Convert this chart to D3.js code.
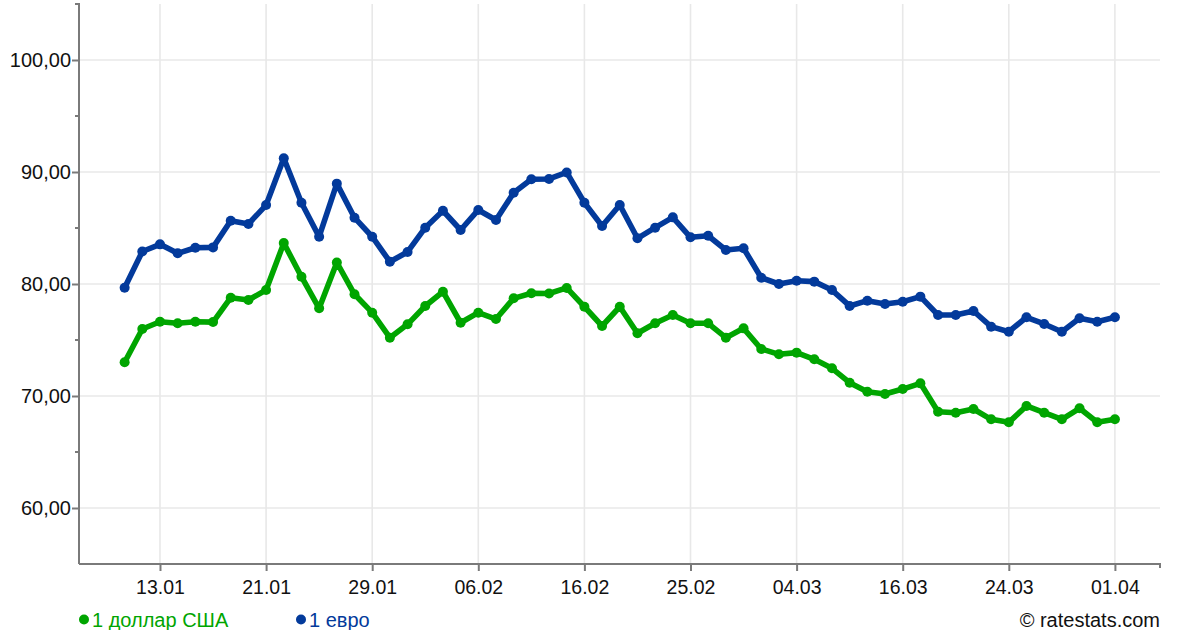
<!DOCTYPE html>
<html>
<head>
<meta charset="utf-8">
<script src="https://cdn.jsdelivr.net/npm/d3@7"></script>
<style>
  html, body { margin: 0; padding: 0; background: #fff; }
  svg { display: block; font-family: "Liberation Sans", Arial, Helvetica, sans-serif; }
</style>
</head>
<body>
<svg id="chart" width="1200" height="630"></svg>
<script>
// ---- data (CBR rates, RUB) ----
const dates = [
  "01.01","12.01","13.01","14.01","15.01","16.01","19.01","20.01","21.01","22.01",
  "23.01","26.01","27.01","28.01","29.01","30.01","02.02","03.02","04.02","05.02",
  "06.02","09.02","10.02","11.02","12.02","13.02","16.02","17.02","18.02","19.02",
  "20.02","24.02","25.02","26.02","27.02","01.03","02.03","03.03","04.03","05.03",
  "10.03","11.03","12.03","15.03","16.03","17.03","18.03","19.03","22.03","23.03",
  "24.03","25.03","26.03","29.03","30.03","31.03","01.04"
];
const usd = [
  73.01,75.98,76.63,76.49,76.63,76.60,78.78,78.57,79.46,83.65,
  80.65,77.83,81.92,79.08,77.44,75.21,76.40,78.04,79.31,76.54,
  77.44,76.87,78.72,79.17,79.15,79.65,77.97,76.25,77.97,75.60,
  76.49,77.23,76.49,76.49,75.21,76.04,74.20,73.72,73.87,73.28,
  72.47,71.19,70.38,70.18,70.62,71.13,68.60,68.51,68.84,67.92,
  67.65,69.11,68.51,67.92,68.90,67.65,67.92
];
const eur = [
  79.67,82.90,83.54,82.74,83.24,83.27,85.65,85.36,87.05,91.22,
  87.26,84.22,88.96,85.92,84.22,81.99,82.86,85.03,86.54,84.82,
  86.61,85.71,88.15,89.35,89.38,89.96,87.26,85.18,87.05,84.08,
  85.03,85.95,84.17,84.31,83.04,83.19,80.56,80.00,80.29,80.21,
  79.46,78.04,78.51,78.21,78.42,78.87,77.23,77.23,77.59,76.19,
  75.74,77.03,76.43,75.74,76.94,76.63,77.03
];
const xTickLabels = ["13.01","21.01","29.01","06.02","16.02","25.02","04.03","16.03","24.03","01.04"];
const yTickValues = [60, 70, 80, 90, 100];
const seriesNames = ["1 доллар США", "1 евро"];
const seriesColors = ["#00a500", "#033a9b"];

// ---- layout ----
const svg = d3.select("#chart");
const L = 79, R = 1160, T = 4, B = 564;

const x = d3.scaleLinear().domain([-2.58, 58.55]).range([L, R]);
const y = d3.scaleLinear().domain([55, 105]).range([B, T]);

const xTickIdx = xTickLabels.map(l => dates.indexOf(l));

// grid
const grid = svg.append("g");
grid.selectAll("line.h").data(yTickValues).enter().append("line")
  .attr("x1", L).attr("x2", R)
  .attr("y1", d => y(d)).attr("y2", d => y(d))
  .attr("stroke", "#e8e8e8").attr("stroke-width", 1.6);
grid.selectAll("line.v").data(xTickIdx).enter().append("line")
  .attr("x1", d => x(d)).attr("x2", d => x(d))
  .attr("y1", T).attr("y2", B)
  .attr("stroke", "#e8e8e8").attr("stroke-width", 1.6);

// y axis
const yAxis = d3.axisLeft(y).tickValues(yTickValues).tickSize(7).tickPadding(1)
  .tickFormat(d => d3.format(".2f")(d).replace(".", ","));
const gy = svg.append("g").attr("transform", `translate(${L},0)`).call(yAxis);
gy.select(".domain").attr("stroke", "#7a7a7a").attr("stroke-width", 2)
  .attr("d", `M-4,${T}H0V${B}`);
gy.selectAll(".tick line").attr("stroke", "#7a7a7a").attr("stroke-width", 2);
gy.selectAll(".tick text").attr("font-size", 20).attr("fill", "#111")
  .attr("font-family", "'Liberation Sans', Arial, sans-serif");
// minor y ticks
const minorY = d3.range(55, 106, 5).filter(v => !yTickValues.includes(v) && v !== 55 && v !== 105);
svg.append("g").selectAll("line").data(minorY).enter().append("line")
  .attr("x1", L - 4).attr("x2", L).attr("y1", d => y(d)).attr("y2", d => y(d))
  .attr("stroke", "#7a7a7a").attr("stroke-width", 2);

// x axis
const xAxis = d3.axisBottom(x).tickValues(xTickIdx).tickSize(7).tickPadding(9)
  .tickFormat((d, i) => xTickLabels[i]);
const gx = svg.append("g").attr("transform", `translate(0,${B})`).call(xAxis);
gx.select(".domain").attr("stroke", "#7a7a7a").attr("stroke-width", 2)
  .attr("d", `M${L},0H${R}V4`);
gx.selectAll(".tick line").attr("stroke", "#7a7a7a").attr("stroke-width", 2);
gx.selectAll(".tick text").attr("font-size", 19.5).attr("fill", "#111")
  .attr("font-family", "'Liberation Sans', Arial, sans-serif");

// lines
const series = [usd, eur];
const line = d3.line().x((d, i) => x(i)).y(d => y(d));
series.forEach((vals, s) => {
  const g = svg.append("g");
  g.append("path").datum(vals).attr("d", line)
    .attr("fill", "none").attr("stroke", seriesColors[s])
    .attr("stroke-width", 5.6).attr("stroke-linejoin", "round").attr("stroke-linecap", "round");
  g.selectAll("circle").data(vals).enter().append("circle")
    .attr("cx", (d, i) => x(i)).attr("cy", d => y(d)).attr("r", 5)
    .attr("fill", seriesColors[s]);
});

// legend
const legendX = [84, 301];
seriesNames.forEach((name, s) => {
  svg.append("circle").attr("cx", legendX[s]).attr("cy", 619.5).attr("r", 5)
    .attr("fill", seriesColors[s]);
  svg.append("text").attr("x", legendX[s] + 8).attr("y", 626.5)
    .attr("font-size", 20).attr("fill", seriesColors[s]).text(name);
});

// credit
svg.append("text").attr("x", 1160).attr("y", 626.5).attr("text-anchor", "end")
  .attr("font-size", 20).attr("fill", "#111").text("© ratestats.com");
</script>
</body>
</html>
